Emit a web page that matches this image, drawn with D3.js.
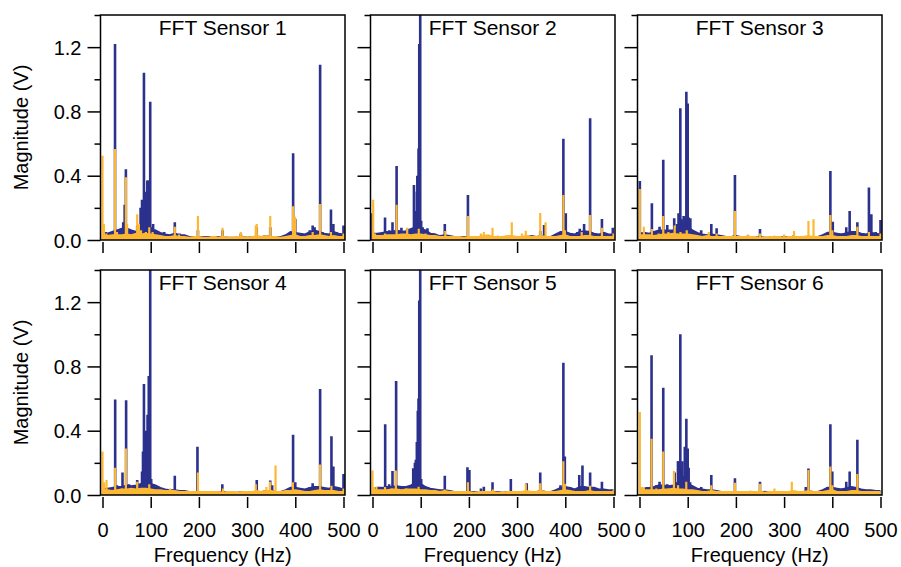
<!DOCTYPE html>
<html><head><meta charset="utf-8">
<script src="https://cdn.jsdelivr.net/npm/d3@7"></script>
<style>
body{margin:0;background:#fff}
svg{display:block}
text{font-family:"Liberation Sans",Arial,Helvetica,sans-serif;fill:#000}
</style>
</head><body>
<svg id="chart" width="901" height="567"></svg>
<script>
// ---------- data ----------
const titles = ["FFT Sensor 1","FFT Sensor 2","FFT Sensor 3","FFT Sensor 4","FFT Sensor 5","FFT Sensor 6"];
const xTickValues = [0,100,200,300,400,500];
const yMajorTicks = [0,0.4,0.8,1.2];
const yMinorTicks = [0.2,0.6,1.0,1.4];
const yTickLabels = ["0.0","0.4","0.8","1.2"];
const baseFreqs = [0,10,20,30,40,50,60,70,80,90,100,110,120,130,140,150,160,170,180,190,200,210,220,230,240,250,260,270,280,290,300,310,320,330,340,350,360,370,380,390,400,410,420,430,440,450,460,470,480,490,500];

// noise floor (magnitude at baseFreqs)
const s1NavyBase = [0.05,0.04,0.05,0.06,0.07,0.07,0.06,0.05,0.07,0.09,0.07,0.06,0.045,0.035,0.03,0.04,0.03,0.03,0.02,0.02,0.02,0.02,0.02,0.015,0.02,0.02,0.015,0.015,0.015,0.02,0.015,0.02,0.02,0.02,0.025,0.02,0.02,0.02,0.03,0.05,0.045,0.04,0.035,0.05,0.06,0.05,0.04,0.035,0.05,0.04,0.035];
const s1OrangeBase = [0.03,0.025,0.03,0.03,0.03,0.035,0.03,0.04,0.035,0.04,0.035,0.03,0.025,0.02,0.02,0.025,0.02,0.02,0.015,0.02,0.02,0.015,0.015,0.02,0.015,0.02,0.015,0.015,0.02,0.02,0.015,0.02,0.025,0.02,0.025,0.02,0.02,0.015,0.02,0.025,0.03,0.02,0.02,0.025,0.025,0.03,0.025,0.02,0.025,0.02,0.02];
const s2NavyBase = [0.04,0.04,0.045,0.05,0.05,0.06,0.05,0.055,0.07,0.08,0.07,0.06,0.04,0.035,0.025,0.03,0.025,0.02,0.02,0.02,0.02,0.015,0.02,0.02,0.015,0.015,0.02,0.015,0.015,0.02,0.02,0.02,0.02,0.025,0.02,0.025,0.02,0.02,0.035,0.05,0.05,0.04,0.035,0.05,0.055,0.05,0.04,0.035,0.045,0.035,0.035];
const s2OrangeBase = [0.03,0.025,0.025,0.03,0.03,0.03,0.035,0.035,0.03,0.035,0.035,0.03,0.025,0.025,0.02,0.02,0.02,0.02,0.02,0.015,0.02,0.02,0.02,0.025,0.03,0.02,0.02,0.02,0.025,0.025,0.02,0.02,0.025,0.02,0.02,0.025,0.02,0.02,0.02,0.025,0.03,0.02,0.02,0.02,0.025,0.025,0.02,0.02,0.02,0.02,0.02];
const s3NavyBase = [0.04,0.045,0.04,0.05,0.06,0.06,0.06,0.06,0.08,0.09,0.08,0.06,0.045,0.035,0.03,0.035,0.03,0.025,0.02,0.02,0.025,0.02,0.02,0.02,0.02,0.02,0.015,0.015,0.02,0.015,0.02,0.015,0.02,0.02,0.02,0.02,0.02,0.02,0.03,0.045,0.045,0.04,0.035,0.045,0.05,0.05,0.04,0.035,0.045,0.04,0.035];
const s3OrangeBase = [0.03,0.03,0.03,0.025,0.03,0.035,0.035,0.04,0.035,0.035,0.035,0.03,0.025,0.02,0.025,0.02,0.02,0.02,0.02,0.02,0.02,0.02,0.02,0.02,0.02,0.015,0.015,0.02,0.02,0.02,0.015,0.02,0.02,0.02,0.02,0.025,0.02,0.02,0.02,0.025,0.025,0.02,0.02,0.02,0.025,0.025,0.02,0.02,0.02,0.02,0.02];
const s4NavyBase = [0.04,0.04,0.045,0.05,0.05,0.06,0.055,0.06,0.07,0.09,0.07,0.06,0.045,0.035,0.03,0.03,0.025,0.025,0.02,0.02,0.02,0.02,0.02,0.015,0.015,0.02,0.015,0.015,0.015,0.02,0.02,0.02,0.02,0.02,0.025,0.025,0.02,0.02,0.03,0.045,0.045,0.04,0.035,0.045,0.05,0.05,0.045,0.04,0.05,0.045,0.035];
const s4OrangeBase = [0.03,0.03,0.025,0.03,0.035,0.035,0.04,0.035,0.04,0.04,0.035,0.03,0.03,0.025,0.025,0.025,0.02,0.02,0.02,0.02,0.02,0.02,0.02,0.02,0.02,0.015,0.02,0.02,0.015,0.02,0.02,0.02,0.025,0.02,0.025,0.025,0.02,0.02,0.025,0.025,0.03,0.025,0.02,0.02,0.025,0.03,0.025,0.025,0.025,0.02,0.02];
const s5NavyBase = [0.04,0.045,0.045,0.05,0.05,0.055,0.05,0.05,0.06,0.08,0.07,0.05,0.04,0.035,0.03,0.03,0.025,0.02,0.02,0.02,0.02,0.02,0.02,0.02,0.015,0.02,0.02,0.015,0.02,0.02,0.02,0.015,0.02,0.02,0.02,0.025,0.02,0.02,0.03,0.045,0.05,0.045,0.035,0.05,0.05,0.045,0.045,0.035,0.035,0.03,0.03];
const s5OrangeBase = [0.035,0.03,0.03,0.03,0.035,0.035,0.03,0.035,0.035,0.035,0.03,0.03,0.025,0.025,0.02,0.025,0.02,0.02,0.02,0.02,0.02,0.015,0.02,0.02,0.02,0.02,0.015,0.015,0.02,0.02,0.02,0.02,0.025,0.02,0.02,0.025,0.02,0.02,0.02,0.025,0.03,0.025,0.02,0.02,0.02,0.025,0.02,0.02,0.02,0.02,0.02];
const s6NavyBase = [0.04,0.04,0.045,0.05,0.06,0.06,0.055,0.06,0.08,0.09,0.07,0.055,0.04,0.035,0.03,0.03,0.025,0.02,0.02,0.02,0.02,0.02,0.015,0.02,0.015,0.015,0.02,0.015,0.015,0.02,0.02,0.015,0.02,0.02,0.02,0.025,0.02,0.02,0.03,0.045,0.045,0.04,0.035,0.045,0.05,0.045,0.035,0.03,0.03,0.025,0.025];
const s6OrangeBase = [0.03,0.03,0.03,0.03,0.03,0.035,0.035,0.04,0.035,0.035,0.03,0.03,0.025,0.02,0.02,0.025,0.02,0.02,0.02,0.02,0.02,0.02,0.02,0.02,0.02,0.02,0.015,0.02,0.02,0.02,0.02,0.02,0.025,0.02,0.02,0.025,0.02,0.02,0.02,0.025,0.03,0.02,0.02,0.02,0.025,0.025,0.02,0.02,0.02,0.02,0.02];

// spectral peaks [frequency Hz, magnitude V]
const s1NavyPeaks = [[7,0.05],[15,0.045],[26,1.22],[33,0.06],[38,0.07],[43,0.11],[46,0.22],[48.5,0.44],[55,0.07],[62,0.06],[72,0.09],[79,0.2],[82,0.25],[84,0.15],[86,1.04],[88,0.3],[90,0.25],[93,0.37],[95,0.37],[97,0.3],[99,0.86],[101,0.08],[105,0.1],[120,0.04],[128,0.05],[150,0.11],[160,0.04],[198,0.06],[249,0.06],[287,0.04],[320,0.08],[348,0.08],[390,0.05],[395.5,0.54],[400,0.13],[430,0.06],[436,0.09],[440,0.08],[451.5,1.09],[456,0.05],[474,0.19],[479,0.1],[485,0.05],[500,0.09]];
const s1OrangePeaks = [[0,0.525],[3,0.1],[8,0.04],[26,0.566],[30,0.05],[48.5,0.39],[51,0.1],[72,0.16],[75.5,0.1],[80,0.06],[90,0.05],[97,0.08],[104,0.05],[150,0.083],[159,0.035],[198,0.15],[249,0.077],[287,0.05],[318,0.09],[320,0.1],[348,0.15],[395.4,0.21],[399.6,0.145],[436,0.05],[451.5,0.224],[474,0.05],[500,0.04]];
const s2NavyPeaks = [[0,0.166],[5,0.04],[14,0.03],[26,0.14],[35,0.06],[41.5,0.11],[50,0.46],[54,0.06],[60,0.077],[72,0.07],[80,0.05],[86,0.342],[88,0.1],[90,0.18],[92,0.3],[93,0.4],[95.6,0.57],[97,1.22],[99,1.42],[101,0.12],[104,0.08],[114,0.073],[128,0.04],[150,0.1],[198,0.28],[240,0.03],[348,0.056],[356,0.093],[390,0.05],[396,0.63],[401,0.166],[425,0.05],[430,0.07],[439,0.1],[451.5,0.757],[460,0.04],[476,0.13],[480,0.05],[498.6,0.077]];
const s2OrangePeaks = [[1.4,0.25],[5,0.04],[26,0.04],[50,0.22],[72,0.077],[96,0.07],[110,0.04],[151,0.056],[198,0.15],[225,0.04],[231,0.05],[249,0.077],[289,0.11],[310,0.04],[318,0.058],[348,0.168],[359,0.11],[396,0.28],[399,0.06],[434,0.05],[451.5,0.156],[476,0.077],[500,0.04]];
const s3NavyPeaks = [[0.7,0.367],[9,0.05],[18,0.04],[25.7,0.228],[35,0.05],[41.6,0.083],[49.3,0.5],[57.6,0.093],[63,0.06],[72,0.135],[78,0.1],[81,0.166],[83,0.14],[84.7,0.82],[87,0.13],[90,0.12],[91.6,0.15],[94,0.14],[97.2,0.923],[100,0.85],[102,0.14],[105.5,0.135],[115,0.05],[128,0.06],[149,0.1],[160,0.073],[198,0.405],[225,0.03],[250,0.068],[320,0.03],[390,0.04],[396,0.43],[401,0.114],[420,0.04],[429,0.08],[436,0.18],[445,0.05],[452,0.11],[465,0.04],[476,0.326],[481,0.16],[490,0.05],[500,0.124]];
const s3OrangePeaks = [[0.7,0.317],[9,0.083],[25.7,0.068],[40,0.04],[49.3,0.15],[60,0.05],[73,0.09],[85,0.05],[98,0.06],[143.7,0.05],[160,0.04],[198,0.18],[225,0.035],[250,0.04],[300,0.035],[320.6,0.056],[350.5,0.118],[361,0.129],[396,0.156],[400,0.06],[452,0.083],[476,0.05],[500,0.04]];
const s4NavyPeaks = [[5,0.04],[15,0.04],[26.3,0.594],[30,0.06],[41.5,0.14],[49,0.59],[55,0.067],[62,0.05],[72,0.094],[78,0.06],[82,0.146],[84,0.27],[86,0.69],[88.6,0.27],[90,0.4],[93.5,0.5],[96,0.74],[99,1.42],[101,0.1],[104,0.06],[120,0.04],[150,0.12],[197,0.3],[248.6,0.067],[320,0.094],[348,0.09],[352,0.06],[395.4,0.375],[400,0.08],[430,0.05],[436,0.073],[451.5,0.66],[475,0.365],[479,0.177],[485,0.05],[500,0.13]];
const s4OrangePeaks = [[0,0.27],[3,0.08],[8.3,0.094],[26.3,0.17],[40,0.04],[48.5,0.29],[60,0.04],[72,0.083],[97,0.067],[140,0.04],[198,0.14],[250,0.04],[318,0.067],[340,0.05],[347.6,0.083],[359,0.183],[395,0.08],[451.5,0.19],[475,0.058],[500,0.04]];
const s5NavyPeaks = [[5,0.04],[15,0.05],[26.3,0.44],[34.6,0.067],[41.5,0.15],[49,0.71],[55,0.05],[70,0.04],[84.5,0.167],[86,0.15],[88,0.2],[90,0.22],[92,0.33],[94,0.525],[95.5,0.6],[97,1.21],[99,1.42],[101,0.1],[104,0.06],[120,0.04],[150,0.12],[197,0.173],[201,0.156],[225,0.04],[231,0.052],[249,0.08],[287,0.1],[320,0.073],[348,0.14],[390,0.06],[396,0.823],[399,0.24],[410,0.05],[429,0.125],[435.6,0.183],[445,0.05],[451.5,0.14],[476,0.083],[500,0.025]];
const s5OrangePeaks = [[0,0.152],[3,0.05],[8.3,0.052],[26,0.05],[40,0.04],[48.5,0.152],[70,0.04],[95.6,0.052],[150,0.035],[198,0.08],[250,0.035],[318,0.07],[348,0.073],[396,0.21],[399,0.07],[451.5,0.058],[500,0.03]];
const s6NavyPeaks = [[5,0.04],[15,0.05],[25,0.87],[35,0.06],[41.6,0.083],[49.3,0.667],[57.6,0.067],[65,0.06],[73,0.14],[79.8,0.21],[81,0.21],[83,0.15],[84.7,1.0],[87,0.17],[89,0.21],[91,0.12],[94,0.3],[97.2,0.475],[100,0.29],[102,0.17],[105,0.08],[128,0.05],[149,0.125],[198,0.104],[250,0.083],[345,0.05],[350.5,0.165],[390,0.05],[396,0.44],[400,0.146],[420,0.04],[429,0.083],[436,0.146],[452,0.344],[460,0.03],[475,0.03]];
const s6OrangePeaks = [[0.7,0.517],[5,0.05],[9,0.046],[25,0.35],[35,0.04],[49.3,0.27],[60,0.04],[71.5,0.15],[80,0.06],[97,0.083],[149,0.06],[198,0.077],[250,0.07],[280,0.04],[316,0.083],[350.5,0.156],[396,0.177],[400,0.06],[452,0.13],[475,0.025]];

const navyBases = [s1NavyBase,s2NavyBase,s3NavyBase,s4NavyBase,s5NavyBase,s6NavyBase];
const orangeBases = [s1OrangeBase,s2OrangeBase,s3OrangeBase,s4OrangeBase,s5OrangeBase,s6OrangeBase];
const navyPeaks = [s1NavyPeaks,s2NavyPeaks,s3NavyPeaks,s4NavyPeaks,s5NavyPeaks,s6NavyPeaks];
const orangePeaks = [s1OrangePeaks,s2OrangePeaks,s3OrangePeaks,s4OrangePeaks,s5OrangePeaks,s6OrangePeaks];

// ---------- layout ----------
const NAVY = "#2B318C", ORANGE = "#FDB833";
const colZero = [102.5, 372.5, 639.5];   // pixel of 0 Hz
const plotW = 241;                        // 0..500 Hz
const rowTop = [15, 270], rowBottom = [240, 495];

const svg = d3.select("#chart");
svg.append("rect").attr("width",901).attr("height",567).attr("fill","#fff");

titles.forEach((title, i) => {
  const col = i % 3, row = Math.floor(i / 3);
  const x = d3.scaleLinear().domain([0,500]).range([colZero[col], colZero[col] + plotW]);
  const y = d3.scaleLinear().domain([0,1.4]).range([rowBottom[row], rowTop[row]]);
  const fl = colZero[col] - 2, fr = colZero[col] + plotW + 1.5;
  const ft = rowTop[row], fb = rowBottom[row];

  const g = svg.append("g");
  const clipId = "clip" + i;
  g.append("clipPath").attr("id", clipId).append("rect")
    .attr("x", fl).attr("y", ft).attr("width", fr - fl).attr("height", fb - ft + 1);
  const plot = g.append("g").attr("clip-path", `url(#${clipId})`);

  const baseArea = d3.area().x((d,k) => x(baseFreqs[k])).y0(y(0)).y1(d => y(d));
  const baseLine = d3.line().x((d,k) => x(baseFreqs[k])).y(d => y(d));

  function drawSeries(base, peaks, color, sw) {
    plot.append("path").datum(base).attr("d", baseArea).attr("fill", color);
    plot.append("path").datum(base).attr("d", baseLine).attr("fill","none")
      .attr("stroke", color).attr("stroke-width", 1.8);
    plot.selectAll(null).data(peaks).join("line")
      .attr("x1", d => x(d[0])).attr("x2", d => x(d[0]))
      .attr("y1", y(0)).attr("y2", d => y(d[1]))
      .attr("stroke", color).attr("stroke-width", sw);
  }
  drawSeries(navyBases[i], navyPeaks[i], NAVY, 2.6);
  drawSeries(orangeBases[i], orangePeaks[i], ORANGE, 2.2);

  // frame
  g.append("rect").attr("x", fl).attr("y", ft).attr("width", fr - fl).attr("height", fb - ft)
    .attr("fill","none").attr("stroke","#000").attr("stroke-width",1.5);

  // title
  g.append("text").attr("x", (fl + fr) / 2).attr("y", ft + 20)
    .attr("text-anchor","middle").attr("font-size", 21).text(title);

  // y axis major
  const yMaj = g.append("g").attr("transform", `translate(${fl},0)`)
    .call(d3.axisLeft(y).tickValues(yMajorTicks).tickSize(13).tickPadding(6)
      .tickFormat((d,k) => col === 0 ? yTickLabels[k] : ""));
  yMaj.select(".domain").remove();
  yMaj.selectAll("line").attr("stroke","#000").attr("stroke-width",1.5);
  yMaj.attr("font-family", null).attr("font-size", 20);
  yMaj.selectAll("text").attr("dy","0.35em");

  const yMin = g.append("g").attr("transform", `translate(${fl},0)`)
    .call(d3.axisLeft(y).tickValues(yMinorTicks).tickSize(6).tickFormat(""));
  yMin.select(".domain").remove();
  yMin.selectAll("line").attr("stroke","#000").attr("stroke-width",1.5);

  // x axis
  const xAx = g.append("g").attr("transform", `translate(0,${fb + 2})`)
    .call(d3.axisBottom(x).tickValues(xTickValues).tickSize(11)
      .tickFormat(d => row === 1 ? d3.format("d")(d) : ""));
  xAx.select(".domain").remove();
  xAx.selectAll("line").attr("stroke","#000").attr("stroke-width",1.5);
  xAx.attr("font-family", null).attr("font-size", 20);
  xAx.selectAll("text").attr("y", 537 - (fb + 2)).attr("dy", 0);

  if (row === 1) {
    g.append("text").attr("x", (fl + fr) / 2).attr("y", 562)
      .attr("text-anchor","middle").attr("font-size", 20).text("Frequency (Hz)");
  }
  if (col === 0) {
    g.append("text").attr("transform", `translate(28,${(ft + fb) / 2}) rotate(-90)`)
      .attr("text-anchor","middle").attr("font-size", 20).text("Magnitude (V)");
  }
});
</script>
</body></html>
